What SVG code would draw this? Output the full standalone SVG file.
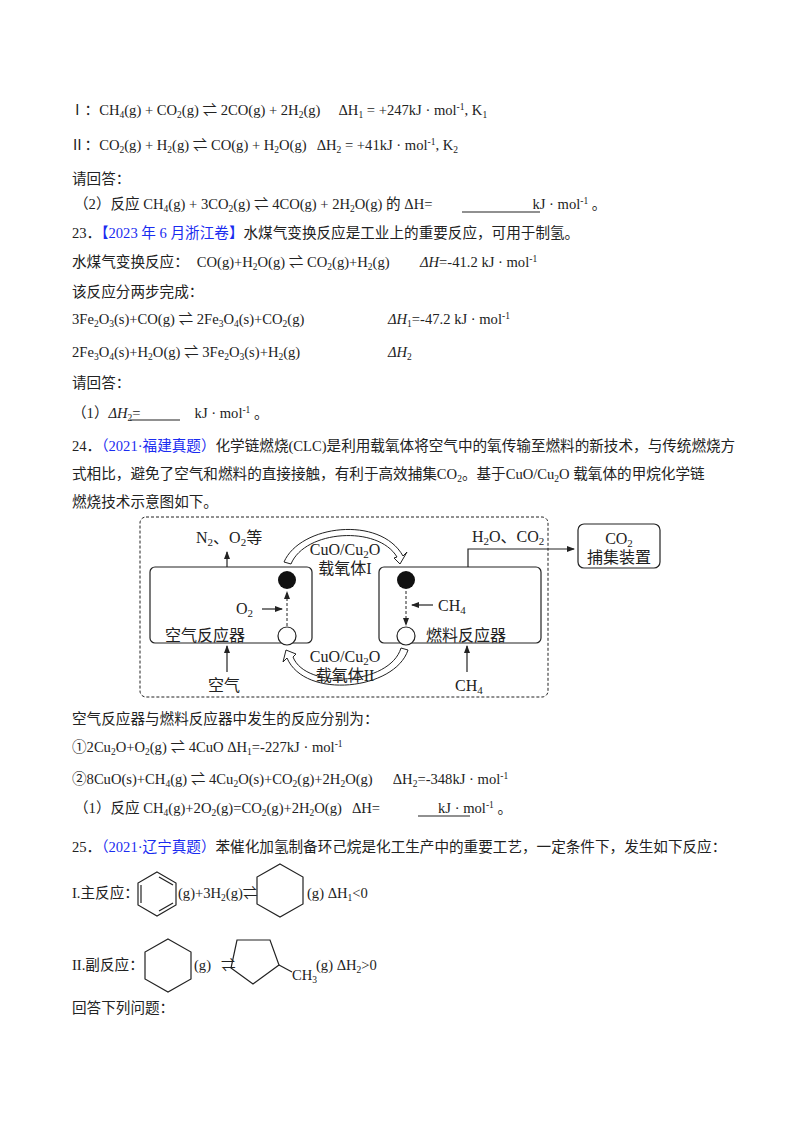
<svg xmlns="http://www.w3.org/2000/svg" width="800" height="1132" viewBox="0 0 800 1132">
<style>
text{font-family:"Liberation Serif","Noto Sans CJK SC",serif;font-size:14.6px;fill:#222}
.b{fill:#1a2cf0}
.s{font-size:9.5px}
.g text{font-size:16px}
.g .s{font-size:11px}
.ln{stroke:#222;stroke-width:1.2;fill:none}
.d{stroke:#222;stroke-width:1;fill:none;stroke-dasharray:3,2}
</style>
<defs>
<marker id="a" markerWidth="8" markerHeight="8" refX="7" refY="4" orient="auto" markerUnits="userSpaceOnUse"><path d="M0,1 L8,4 L0,7 Z" fill="#222"/></marker>
</defs>
<rect width="800" height="1132" fill="#fff"/>
<g id="text22">
<text x="70" y="115">Ⅰ：CH<tspan class="s" dy="3">4</tspan><tspan dy="-3">(g) + CO</tspan><tspan class="s" dy="3">2</tspan><tspan dy="-3">(g) ⇌ 2CO(g) + 2H</tspan><tspan class="s" dy="3">2</tspan><tspan dy="-3">(g)</tspan><tspan dx="18">ΔH</tspan><tspan class="s" dy="3">1</tspan><tspan dy="-3"> = +247kJ · mol</tspan><tspan class="s" dy="-5">-1</tspan><tspan dy="5">, K</tspan><tspan class="s" dy="3">1</tspan></text>
<text x="70" y="150">Ⅱ：CO<tspan class="s" dy="3">2</tspan><tspan dy="-3">(g) + H</tspan><tspan class="s" dy="3">2</tspan><tspan dy="-3">(g) ⇌ CO(g) + H</tspan><tspan class="s" dy="3">2</tspan><tspan dy="-3">O(g)</tspan><tspan dx="10">ΔH</tspan><tspan class="s" dy="3">2</tspan><tspan dy="-3"> = +41kJ · mol</tspan><tspan class="s" dy="-5">-1</tspan><tspan dy="5">, K</tspan><tspan class="s" dy="3">2</tspan></text>
<text x="72" y="184">请回答：</text>
<text x="74" y="209">（2）反应 CH<tspan class="s" dy="3">4</tspan><tspan dy="-3">(g) + 3CO</tspan><tspan class="s" dy="3">2</tspan><tspan dy="-3">(g) ⇌ 4CO(g) + 2H</tspan><tspan class="s" dy="3">2</tspan><tspan dy="-3">O(g) 的 ΔH=</tspan><tspan dx="100">kJ · mol</tspan><tspan class="s" dy="-5">-1</tspan><tspan dy="5"> 。</tspan></text>
<line x1="462" y1="212" x2="540" y2="212" class="ln"/>
</g>
<g id="q23">
<text x="72" y="238">23．<tspan class="b">【2023 年 6 月浙江卷】</tspan>水煤气变换反应是工业上的重要反应，可用于制氢。</text>
<text x="72" y="267">水煤气变换反应：<tspan dx="8">CO(g)+H</tspan><tspan class="s" dy="3">2</tspan><tspan dy="-3">O(g) ⇌ CO</tspan><tspan class="s" dy="3">2</tspan><tspan dy="-3">(g)+H</tspan><tspan class="s" dy="3">2</tspan><tspan dy="-3">(g)</tspan></text>
<text x="420" y="267"><tspan font-style="italic">ΔH</tspan>=-41.2 kJ · mol<tspan class="s" dy="-5">-1</tspan></text>
<text x="72" y="297">该反应分两步完成：</text>
<text x="72" y="324">3Fe<tspan class="s" dy="3">2</tspan><tspan dy="-3">O</tspan><tspan class="s" dy="3">3</tspan><tspan dy="-3">(s)+CO(g) ⇌ 2Fe</tspan><tspan class="s" dy="3">3</tspan><tspan dy="-3">O</tspan><tspan class="s" dy="3">4</tspan><tspan dy="-3">(s)+CO</tspan><tspan class="s" dy="3">2</tspan><tspan dy="-3">(g)</tspan></text>
<text x="388" y="324"><tspan font-style="italic">ΔH</tspan><tspan class="s" dy="3">1</tspan><tspan dy="-3">=-47.2 kJ · mol</tspan><tspan class="s" dy="-5">-1</tspan></text>
<text x="72" y="357">2Fe<tspan class="s" dy="3">3</tspan><tspan dy="-3">O</tspan><tspan class="s" dy="3">4</tspan><tspan dy="-3">(s)+H</tspan><tspan class="s" dy="3">2</tspan><tspan dy="-3">O(g) ⇌ 3Fe</tspan><tspan class="s" dy="3">2</tspan><tspan dy="-3">O</tspan><tspan class="s" dy="3">3</tspan><tspan dy="-3">(s)+H</tspan><tspan class="s" dy="3">2</tspan><tspan dy="-3">(g)</tspan></text>
<text x="388" y="357"><tspan font-style="italic">ΔH</tspan><tspan class="s" dy="3">2</tspan></text>
<text x="72" y="388">请回答：</text>
<text x="72" y="418">（1）<tspan font-style="italic">ΔH</tspan><tspan class="s" dy="3">2</tspan><tspan dy="-3">=</tspan><tspan dx="54">kJ · mol</tspan><tspan class="s" dy="-5">-1</tspan><tspan dy="5"> 。</tspan></text>
<line x1="130" y1="420" x2="180" y2="420" class="ln"/>
</g>
<g id="q24">
<text x="72" y="451">24．<tspan class="b">（2021·福建真题）</tspan>化学链燃烧(CLC)是利用载氧体将空气中的氧传输至燃料的新技术，与传统燃烧方</text>
<text x="72" y="479">式相比，避免了空气和燃料的直接接触，有利于高效捕集CO<tspan class="s" dy="3">2</tspan><tspan dy="-3">。基于CuO/Cu</tspan><tspan class="s" dy="3">2</tspan><tspan dy="-3">O 载氧体的甲烷化学链</tspan></text>
<text x="72" y="507">燃烧技术示意图如下。</text>
</g>
<g id="diagram" class="g">
<rect x="140" y="517" width="408" height="180" rx="6" class="d"/>
<g id="airReactor"><rect x="150" y="567" width="162" height="76" rx="5" class="ln"/>
<text x="165" y="641">空气反应器</text></g>
<g id="fuelReactor"><rect x="379" y="567" width="162" height="76" rx="5" class="ln"/>
<text x="426" y="641">燃料反应器</text></g>
<g id="capture"><rect x="578" y="524" width="82" height="44" rx="6" class="ln"/>
<text x="619" y="544" text-anchor="middle">CO<tspan class="s" dy="3">2</tspan></text>
<text x="619" y="563" text-anchor="middle">捕集装置</text></g>
<circle cx="287" cy="580" r="9" fill="#111"/>
<circle cx="406" cy="580" r="9" fill="#111"/>
<circle cx="287" cy="636" r="9" fill="#fff" stroke="#222" stroke-width="1.2"/>
<circle cx="406" cy="636" r="9" fill="#fff" stroke="#222" stroke-width="1.2"/>
<g id="connectors">
<line x1="227" y1="567" x2="227" y2="552" class="ln" marker-end="url(#a)"/>
<line x1="227" y1="672" x2="227" y2="646" class="ln" marker-end="url(#a)"/>
<line x1="467" y1="672" x2="467" y2="646" class="ln" marker-end="url(#a)"/>
<polyline points="468,567 468,549 574,549" class="ln" marker-end="url(#a)"/>
<line x1="262" y1="609" x2="282" y2="609" class="ln" marker-end="url(#a)"/>
<line x1="433" y1="605" x2="412" y2="605" class="ln" marker-end="url(#a)"/>
<line x1="287" y1="626" x2="287" y2="592" class="d" marker-end="url(#a)"/>
<line x1="406" y1="591" x2="406" y2="625" class="d" marker-end="url(#a)"/>
<path d="M284,562 C300,525 380,515 403,556 L407,552 L400,564 L394,558 L397,557 C378,525 305,530 291,564 Z" fill="#fff" stroke="#222" stroke-width="1"/>
<path d="M408,650 C395,690 305,700 287,658 L283,662 L286,650 L296,654 L293,657 C306,690 390,685 401,648 Z" fill="#fff" stroke="#222" stroke-width="1"/>
</g>
<text x="196" y="543">N<tspan class="s" dy="3">2</tspan><tspan dy="-3">、O</tspan><tspan class="s" dy="3">2</tspan><tspan dy="-3">等</tspan></text>
<text x="345" y="555" text-anchor="middle">CuO/Cu<tspan class="s" dy="3">2</tspan><tspan dy="-3">O</tspan></text>
<text x="345" y="574" text-anchor="middle">载氧体I</text>
<text x="345" y="662" text-anchor="middle">CuO/Cu<tspan class="s" dy="3">2</tspan><tspan dy="-3">O</tspan></text>
<text x="345" y="681" text-anchor="middle">载氧体II</text>
<text x="236" y="614">O<tspan class="s" dy="3">2</tspan></text>
<text x="438" y="611">CH<tspan class="s" dy="3">4</tspan></text>
<text x="208" y="691">空气</text>
<text x="455" y="691">CH<tspan class="s" dy="3">4</tspan></text>
<text x="472" y="542">H<tspan class="s" dy="3">2</tspan><tspan dy="-3">O、CO</tspan><tspan class="s" dy="3">2</tspan></text>
</g>
<g id="q24b">
<text x="72" y="724">空气反应器与燃料反应器中发生的反应分别为：</text>
<text x="72" y="752">①2Cu<tspan class="s" dy="3">2</tspan><tspan dy="-3">O+O</tspan><tspan class="s" dy="3">2</tspan><tspan dy="-3">(g) ⇌ 4CuO ΔH</tspan><tspan class="s" dy="3">1</tspan><tspan dy="-3">=-227kJ · mol</tspan><tspan class="s" dy="-5">-1</tspan></text>
<text x="72" y="784">②8CuO(s)+CH<tspan class="s" dy="3">4</tspan><tspan dy="-3">(g) ⇌ 4Cu</tspan><tspan class="s" dy="3">2</tspan><tspan dy="-3">O(s)+CO</tspan><tspan class="s" dy="3">2</tspan><tspan dy="-3">(g)+2H</tspan><tspan class="s" dy="3">2</tspan><tspan dy="-3">O(g)</tspan><tspan dx="20">ΔH</tspan><tspan class="s" dy="3">2</tspan><tspan dy="-3">=-348kJ · mol</tspan><tspan class="s" dy="-5">-1</tspan></text>
<text x="74" y="813">（1）反应 CH<tspan class="s" dy="3">4</tspan><tspan dy="-3">(g)+2O</tspan><tspan class="s" dy="3">2</tspan><tspan dy="-3">(g)=CO</tspan><tspan class="s" dy="3">2</tspan><tspan dy="-3">(g)+2H</tspan><tspan class="s" dy="3">2</tspan><tspan dy="-3">O(g)</tspan><tspan dx="10">ΔH=</tspan><tspan dx="58">kJ · mol</tspan><tspan class="s" dy="-5">-1</tspan><tspan dy="5"> 。</tspan></text>
<line x1="418" y1="816" x2="470" y2="816" class="ln"/>
</g>
<g id="q25">
<text x="72" y="852">25．<tspan class="b">（2021·辽宁真题）</tspan>苯催化加氢制备环己烷是化工生产中的重要工艺，一定条件下，发生如下反应：</text>
<text x="72" y="898">I.主反应：</text>
<g id="benzene" class="ln">
<polygon points="157,872 176,883 176,905 157,916 138,905 138,883"/>
<line x1="141" y1="885" x2="141" y2="903"/>
<line x1="159" y1="877" x2="173" y2="885"/>
<line x1="173" y1="903" x2="159" y2="911"/>
</g>
<text x="178" y="898">(g)+3H<tspan class="s" dy="3">2</tspan><tspan dy="-3">(g)⇌</tspan></text>
<polygon points="280,864 303,877 303,904 280,917 257,904 257,877" class="ln"/>
<text x="307" y="898">(g) ΔH<tspan class="s" dy="3">1</tspan><tspan dy="-3">&lt;0</tspan></text>
<text x="72" y="970">II.副反应：</text>
<polygon points="168,939 191,952 191,979 168,992 145,979 145,952" class="ln"/>
<text x="194" y="970">(g)<tspan dx="10">⇌</tspan></text>
<g class="ln">
<polygon points="237,940 270,940 279,965 253,984 231,968"/>
<line x1="279" y1="965" x2="292" y2="972"/>
</g>
<text x="292" y="980">CH<tspan class="s" dy="3">3</tspan></text>
<text x="316" y="970">(g) ΔH<tspan class="s" dy="3">2</tspan><tspan dy="-3">&gt;0</tspan></text>
<text x="72" y="1013">回答下列问题：</text>
</g>
</svg>
